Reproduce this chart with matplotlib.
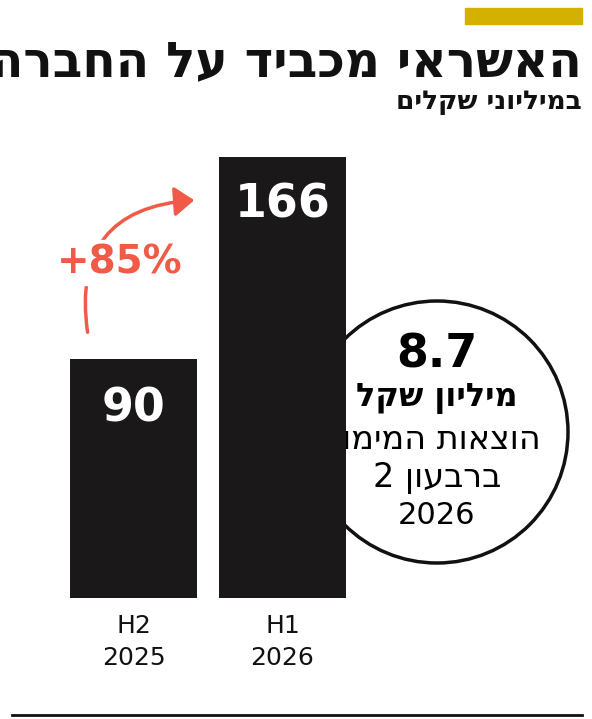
import matplotlib
matplotlib.use("Agg")
import matplotlib.pyplot as plt
from matplotlib.patches import Circle, Rectangle, FancyArrowPatch

categories = ["H2\n2025", "H1\n2026"]
values = [90, 166]
change_label = "+85%"
title = "האשראי מכביד על החברה"
subtitle = "במיליוני שקלים"
circle_lines = ["8.7", "מיליון שקל", "הוצאות המימון", "ברבעון 2", "2026"]

def heb(s):
    return s[::-1]

W, H = 592, 719
fig = plt.figure(figsize=(W/100, H/100), dpi=100)
fig.patch.set_facecolor("white")
bg = fig.add_axes([0, 0, 1, 1])
bg.set_xlim(0, W); bg.set_ylim(H, 0); bg.axis("off")

bg.add_patch(Rectangle((465, 8), 117, 16, color="#d4b000"))
bg.text(582, 62, heb(title), ha="right", va="center", fontsize=35, fontweight="bold", family="DejaVu Sans", color="#111")
bg.text(582, 102, heb(subtitle), ha="right", va="center", fontsize=19, fontweight="bold", family="DejaVu Sans", color="#111")
bg.plot([12, 582], [715, 715], color="#111", lw=2)

# bars
w = 0.855
x0 = 70 / W; x1 = 346 / W
ax = fig.add_axes([x0, (H - 598) / H, x1 - x0, (598 - 157) / H])
ax.bar([0, 1], values, width=w, color="#1a1818")
ax.set_xlim(-w/2, 1 + w/2); ax.set_ylim(0, values[1])
ax.axis("off")
for i, v in enumerate(values):
    ax.text(i, v - 18 if i == 1 else v - 19, str(v), ha="center", va="center", color="white",
            fontsize=33, fontweight="bold")
for i, c in enumerate(categories):
    ax.text(i, -6, c, ha="center", va="top", fontsize=18, color="#111", linespacing=1.45)

# arrow and change
red = "#f05a47"
bg.add_artist(FancyArrowPatch((88, 335), (197, 200), connectionstyle="arc3,rad=-0.55",
                              arrowstyle="-|>,head_length=8,head_width=6", color=red, lw=2.5,
                              mutation_scale=1.5))
bg.add_patch(Rectangle((45, 240), 150, 45, color="white", zorder=3))
bg.text(120, 263, change_label, ha="center", va="center", fontsize=28, fontweight="bold", color=red, zorder=4)

# circle
bg.add_patch(Circle((437, 432), 131, facecolor="white", edgecolor="#111", lw=2.5, zorder=5))
bg.text(437, 355, circle_lines[0], ha="center", va="center", fontsize=33, fontweight="bold", zorder=6)
bg.text(437, 398, heb(circle_lines[1]), ha="center", va="center", fontsize=23, fontweight="bold", zorder=6)
bg.text(437, 440, heb(circle_lines[2]), ha="center", va="center", fontsize=24, zorder=6)
bg.text(437, 478, heb(circle_lines[3]), ha="center", va="center", fontsize=24, zorder=6)
bg.text(437, 515, circle_lines[4], ha="center", va="center", fontsize=22, zorder=6)

fig.savefig("out.png", dpi=100)
